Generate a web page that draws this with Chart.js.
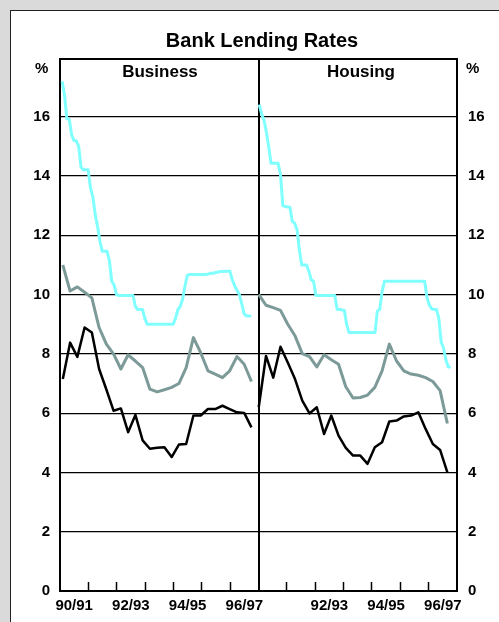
<!DOCTYPE html>
<html>
<head>
<meta charset="utf-8">
<script src="https://cdn.jsdelivr.net/npm/chart.js@4.4.0/dist/chart.umd.min.js"></script>
<style>
  body { margin: 0; width: 499px; height: 622px; overflow: hidden; position: relative; background: #dadada; font-family: "Liberation Sans", Arial, sans-serif; }
  #paper { position: absolute; left: 10px; top: 10px; width: 510px; height: 630px; background: #fff; border-left: 1px solid #222; border-top: 1px solid #222; }
  canvas { position: absolute; left: 0; top: 0; }
  .t { position: absolute; font-weight: bold; color: #000; white-space: nowrap; line-height: 1; }
  .c { transform: translateX(-50%); }
</style>
</head>
<body>
<div id="paper"></div>
<canvas id="chart" width="499" height="622"></canvas>
<div class="t c" style="left:262px; top:30px; font-size:20px;">Bank Lending Rates</div>
<div class="t c" style="left:160px; top:63px; font-size:17px;">Business</div>
<div class="t c" style="left:361px; top:63px; font-size:17px;">Housing</div>
<div class="t" style="left:35px; top:60px; font-size:15px;">%</div>
<div class="t" style="left:466px; top:60px; font-size:15px;">%</div>
<script>
// monthly, Jul 1990 onwards (indicator rates)
const businessIndicator = [
  17.2, 16.75, 15.93, 15.92, 15.4, 15.2, 15.19, 15.0, 14.3, 14.21, 14.21, 14.21,
  13.6, 13.3, 12.7, 12.3, 11.8, 11.46, 11.46, 11.46, 11.15, 10.45, 10.32, 10.0,
  9.97, 9.97, 9.97, 9.97, 9.97, 9.97, 9.97, 9.6, 9.5, 9.5, 9.5, 9.2,
  9.0, 9.0, 9.0, 9.0, 9.0, 9.0, 9.0, 9.0, 9.0, 9.0, 9.0, 9.0,
  9.2, 9.5, 9.6, 9.85, 10.3, 10.65, 10.68, 10.68, 10.68, 10.68, 10.68, 10.68,
  10.68, 10.68, 10.7, 10.72, 10.72, 10.75, 10.76, 10.78, 10.78, 10.79, 10.79, 10.79,
  10.5, 10.3, 10.15, 10.0, 9.7, 9.35, 9.28, 9.28, 9.28
];
const housingStandard = [
  16.41, 16.1, 15.89, 15.5, 15.0, 14.43, 14.43, 14.43, 14.43, 14.05, 13.0, 12.97,
  12.96, 12.95, 12.47, 12.41, 12.2, 11.5, 11.0, 11.0, 11.0, 10.8, 10.5, 10.45,
  9.97, 9.97, 9.97, 9.97, 9.97, 9.97, 9.97, 9.97, 9.97, 9.5, 9.5, 9.48,
  9.47, 9.0, 8.72, 8.72, 8.72, 8.72, 8.72, 8.72, 8.72, 8.72, 8.72, 8.72,
  8.72, 8.72, 9.45, 9.5, 10.1, 10.45, 10.45, 10.45, 10.45, 10.45, 10.45, 10.45,
  10.45, 10.45, 10.45, 10.45, 10.45, 10.45, 10.45, 10.45, 10.45, 10.45, 10.45, 9.9,
  9.65, 9.52, 9.5, 9.5, 9.2, 8.4, 8.2, 7.8, 7.56, 7.56
];
// quarterly
const businessAverage = [
  11.0, 10.12, 10.26, 10.08, 9.89, 8.89, 8.33, 7.99, 7.49, 7.97, 7.76, 7.54, 6.81, 6.72,
  6.79, 6.87, 7.0, 7.54, 8.55, 8.04, 7.43, 7.32, 7.2, 7.43, 7.91, 7.65, 7.07
];
const businessOther = [
  7.15, 8.38, 7.9, 8.89, 8.72, 7.49, 6.8, 6.08, 6.16, 5.36, 5.94, 5.08, 4.8, 4.83,
  4.85, 4.52, 4.94, 4.96, 5.92, 5.92, 6.14, 6.14, 6.25, 6.14, 6.03, 6.01, 5.52
];
const housingAverage = [
  10.01, 9.64, 9.56, 9.47, 9.0, 8.61, 8.01, 7.91, 7.56, 7.97, 7.8, 7.65, 6.89, 6.51,
  6.53, 6.61, 6.87, 7.43, 8.33, 7.76, 7.43, 7.32, 7.28, 7.2, 7.07, 6.76, 5.65
];
const housingOther = [
  6.2, 7.93, 7.2, 8.24, 7.71, 7.15, 6.42, 5.99, 6.2, 5.3, 5.92, 5.24, 4.83, 4.57,
  4.57, 4.29, 4.85, 5.02, 5.72, 5.75, 5.89, 5.92, 6.03, 5.47, 4.96, 4.76, 4.0
];
const fiscalYears = ['90/91', '91/92', '92/93', '93/94', '94/95', '95/96', '96/97'];
const businessYearLabels = ['90/91', '92/93', '94/95', '96/97'];
const housingYearLabels = ['92/93', '94/95', '96/97'];
const yMax = 17.95;

const CYAN = '#80ffff';
const GREY = '#7c9a98';
const BLACK = '#000000';

// x runs in months: 0-84 business panel, 84-168 housing panel
const monthly = (arr, start) => arr.map((v, i) => ({ x: start + i, y: v }));
const quarterly = (arr, start) => arr.map((v, i) => ({ x: start + i * 3.07, y: v }));

const labelTicks = [];
fiscalYears.forEach((fy, i) => {
  if (businessYearLabels.includes(fy)) labelTicks.push({ value: 6 + 12 * i, label: fy });
});
fiscalYears.forEach((fy, i) => {
  if (housingYearLabels.includes(fy)) labelTicks.push({ value: 90 + 12 * i, label: fy });
});
const yearBounds = [];
for (let i = 1; i < fiscalYears.length * 2; i++) yearBounds.push(12 * i);

const line = (data, color, width) => ({
  data, borderColor: color, borderWidth: width, pointRadius: 0, tension: 0, fill: false,
  borderJoinStyle: 'round'
});

const boldFont = { family: '"Liberation Sans", Arial, sans-serif', size: 15, weight: 'bold' };

new Chart(document.getElementById('chart'), {
  type: 'line',
  data: {
    datasets: [
      line(monthly(businessIndicator, 0.9), CYAN, 3),
      line(quarterly(businessAverage, 1.2), GREY, 3),
      line(quarterly(businessOther, 1.2), BLACK, 2.5),
      line(monthly(housingStandard, 84.3), CYAN, 3),
      line(quarterly(housingAverage, 84.1), GREY, 3),
      line(quarterly(housingOther, 84.1), BLACK, 2.5)
    ]
  },
  options: {
    responsive: false,
    animation: false,
    layout: { padding: { top: 59, left: 0, right: 0, bottom: 0 } },
    plugins: { legend: { display: false }, tooltip: { enabled: false } },
    scales: {
      x: {
        type: 'linear', position: 'bottom', min: 0, max: 168,
        grid: { display: false, drawTicks: false },
        border: { display: true, color: '#000', width: 2 },
        afterBuildTicks: s => { s.ticks = labelTicks.map(t => ({ value: t.value })); },
        ticks: {
          autoSkip: false, maxRotation: 0, padding: 6, color: '#000', font: boldFont,
          callback: v => (labelTicks.find(t => t.value === v) || {}).label || ''
        },
        afterFit: s => { s.height = 31; }
      },
      xt: {
        type: 'linear', position: { y: 0.3 }, min: 0, max: 168,
        afterBuildTicks: s => { s.ticks = yearBounds.map(v => ({ value: v })); },
        grid: {
          drawOnChartArea: true, drawTicks: true, tickLength: 9, tickWidth: 1.5, tickColor: '#000',
          color: c => (c.tick && c.tick.value === 84 ? '#000' : 'rgba(0,0,0,0)'),
          lineWidth: c => (c.tick && c.tick.value === 84 ? 2 : 1)
        },
        border: { display: false },
        ticks: { display: false },
        afterFit: s => { s.height = 0; }
      },
      xTop: {
        type: 'linear', position: 'top', min: 0, max: 168,
        grid: { display: false, drawTicks: false },
        border: { display: true, color: '#000', width: 2 },
        ticks: { display: false },
        afterFit: s => { s.height = 0; }
      },
      y: {
        position: 'left', min: 0, max: yMax,
        ticks: { stepSize: 2, includeBounds: false, padding: 10, color: '#000', font: boldFont },
        grid: { color: '#000', lineWidth: 1.2, drawTicks: false },
        border: { display: true, color: '#000', width: 2 },
        afterFit: s => { s.width = 60; }
      },
      y2: {
        position: 'right', min: 0, max: yMax,
        ticks: { stepSize: 2, includeBounds: false, padding: 11, color: '#000', font: boldFont },
        grid: { display: false, drawTicks: false },
        border: { display: true, color: '#000', width: 2 },
        afterFit: s => { s.width = 42; }
      }
    }
  }
});
</script>
</body>
</html>
